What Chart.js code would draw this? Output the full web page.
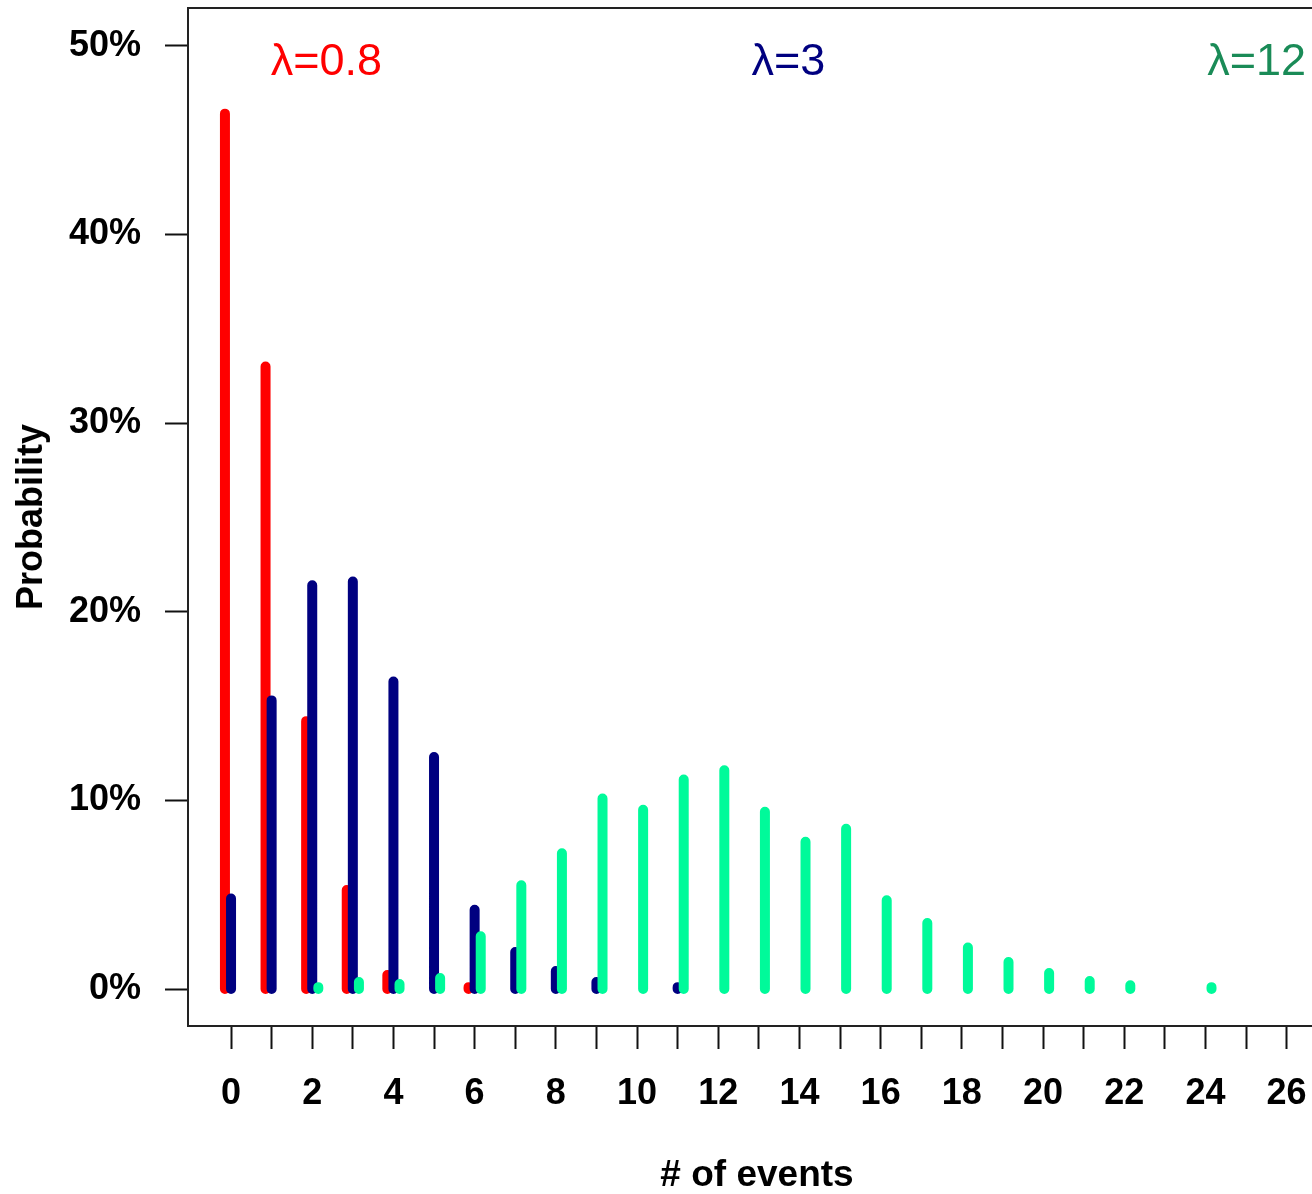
<!DOCTYPE html>
<html>
<head>
<meta charset="utf-8">
<script src="https://cdn.jsdelivr.net/npm/chart.js@4.4.1/dist/chart.umd.min.js"></script>
<style>
  html, body { margin: 0; padding: 0; background: #fff; overflow: hidden; }
  canvas { display: block; }
</style>
</head>
<body>
<canvas id="c" width="1330" height="1194"></canvas>
<script>
// Number of events k
const counts = [0, 1, 2, 3, 4, 5, 6, 7, 8, 9, 10, 11, 12, 13, 14, 15, 16, 17, 18, 19, 20, 21, 22, 23, 24];

// Observed probability (%) of k events for each rate
const probLambda08 = [46.4, 33.0, 14.2, 5.25, 0.74, 0, 0.1];
const probLambda3  = [4.8, 15.3, 21.4, 21.6, 16.3, 12.3, 4.2, 1.96, 0.95, 0.37, 0, 0.1];
const probLambda12 = [0, 0, 0.1, 0.37, 0.26, 0.58, 2.8, 5.5, 7.2, 10.1, 9.5, 11.1, 11.6,
                      9.4, 7.8, 8.5, 4.7, 3.5, 2.2, 1.43, 0.85, 0.42, 0.2, 0, 0.1];

// Axis ticks
const xTicks = [0, 1, 2, 3, 4, 5, 6, 7, 8, 9, 10, 11, 12, 13, 14, 15, 16, 17, 18, 19, 20, 21, 22, 23, 24, 25, 26];
const yTicks = [0, 10, 20, 30, 40, 50];

// Rate annotations
const lambdaText = ['\u03bb=0.8', '\u03bb=3', '\u03bb=12'];
const lambdaTextX = [2.35, 13.73, 25.26];
const lambdaTextY = [49.1, 49.1, 49.1];

const FONT = '"Liberation Sans", Arial, Helvetica, sans-serif';
const RED = '#ff0000', NAVY = '#000080', SPRING = '#00fa9a', SPRING_DARK = '#1a8b57';

// Vertical sticks from 0 up to each value, broken apart by null points
function stems(values, shift) {
  const pts = [];
  values.forEach((v, i) => {
    if (v > 0) {
      const x = counts[i] + shift;
      pts.push({ x: x, y: 0 }, { x: x, y: v }, { x: x, y: null });
    }
  });
  return pts;
}

function stemDataset(values, shift, color, order) {
  return {
    data: stems(values, shift),
    borderColor: color,
    backgroundColor: color,
    borderWidth: 10,
    borderCapStyle: 'round',
    showLine: true,
    spanGaps: false,
    pointRadius: 0,
    pointHoverRadius: 0,
    order: order
  };
}

// Fixed axis box sizes, no extra room for overhanging labels
function fixSize(prop, size) {
  return function (axis) {
    axis[prop] = size;
    axis.paddingTop = 0;
    axis.paddingBottom = 0;
    axis.paddingLeft = 0;
    axis.paddingRight = 0;
  };
}

// Frame around the plotting region and the rate labels
const framePlugin = {
  id: 'frame',
  beforeDatasetsDraw(chart) {
    const { ctx, chartArea: a } = chart;
    ctx.save();
    ctx.strokeStyle = '#222';
    ctx.lineWidth = 2;
    ctx.strokeRect(a.left, a.top, a.right - a.left, a.bottom - a.top);
    ctx.restore();
  },
  afterDatasetsDraw(chart) {
    const { ctx, scales } = chart;
    const colors = [RED, NAVY, SPRING_DARK];
    ctx.save();
    ctx.font = '45px ' + FONT;
    ctx.textAlign = 'center';
    ctx.textBaseline = 'middle';
    lambdaText.forEach((t, i) => {
      ctx.fillStyle = colors[i];
      ctx.fillText(t, scales.x.getPixelForValue(lambdaTextX[i]), scales.y.getPixelForValue(lambdaTextY[i]));
    });
    ctx.restore();
  }
};

new Chart(document.getElementById('c'), {
  type: 'scatter',
  data: {
    datasets: [
      stemDataset(probLambda08, -0.15, RED, 3),
      stemDataset(probLambda3, 0, NAVY, 2),
      stemDataset(probLambda12, 0.15, SPRING, 1)
    ]
  },
  options: {
    responsive: false,
    animation: false,
    devicePixelRatio: 1,
    layout: { padding: { top: 8, right: 4, left: 0, bottom: 0 } },
    plugins: { legend: { display: false }, tooltip: { enabled: false } },
    scales: {
      x: {
        type: 'linear',
        min: -1.06,
        max: 26.97,
        afterBuildTicks(axis) { axis.ticks = xTicks.map(v => ({ value: v })); },
        afterFit: fixSize('height', 168),
        border: { display: false },
        grid: { drawOnChartArea: false, drawTicks: true, tickLength: 23, tickWidth: 2, tickColor: '#111' },
        ticks: {
          autoSkip: false, maxRotation: 0, padding: 23, color: '#000',
          font: { family: FONT, size: 36, weight: 'bold' },
          callback: v => (v % 2 === 0 ? String(v) : '')
        },
        title: {
          display: true, text: '# of events', color: '#000',
          font: { family: FONT, size: 37, weight: 'bold', lineHeight: 1 },
          padding: { top: 0, bottom: 0 }
        }
      },
      y: {
        type: 'linear',
        min: -1.96,
        max: 52.0,
        afterBuildTicks(axis) { axis.ticks = yTicks.map(v => ({ value: v })); },
        afterFit: fixSize('width', 188),
        border: { display: false },
        grid: { drawOnChartArea: false, drawTicks: true, tickLength: 23, tickWidth: 2, tickColor: '#111' },
        ticks: {
          padding: 24, color: '#000',
          font: { family: FONT, size: 36, weight: 'bold' },
          callback: v => v + '%'
        },
        title: {
          display: true, text: 'Probability', color: '#000',
          font: { family: FONT, size: 36, weight: 'bold', lineHeight: 1 },
          padding: { top: 14, bottom: 0 }
        }
      }
    }
  },
  plugins: [framePlugin]
});
</script>
</body>
</html>
